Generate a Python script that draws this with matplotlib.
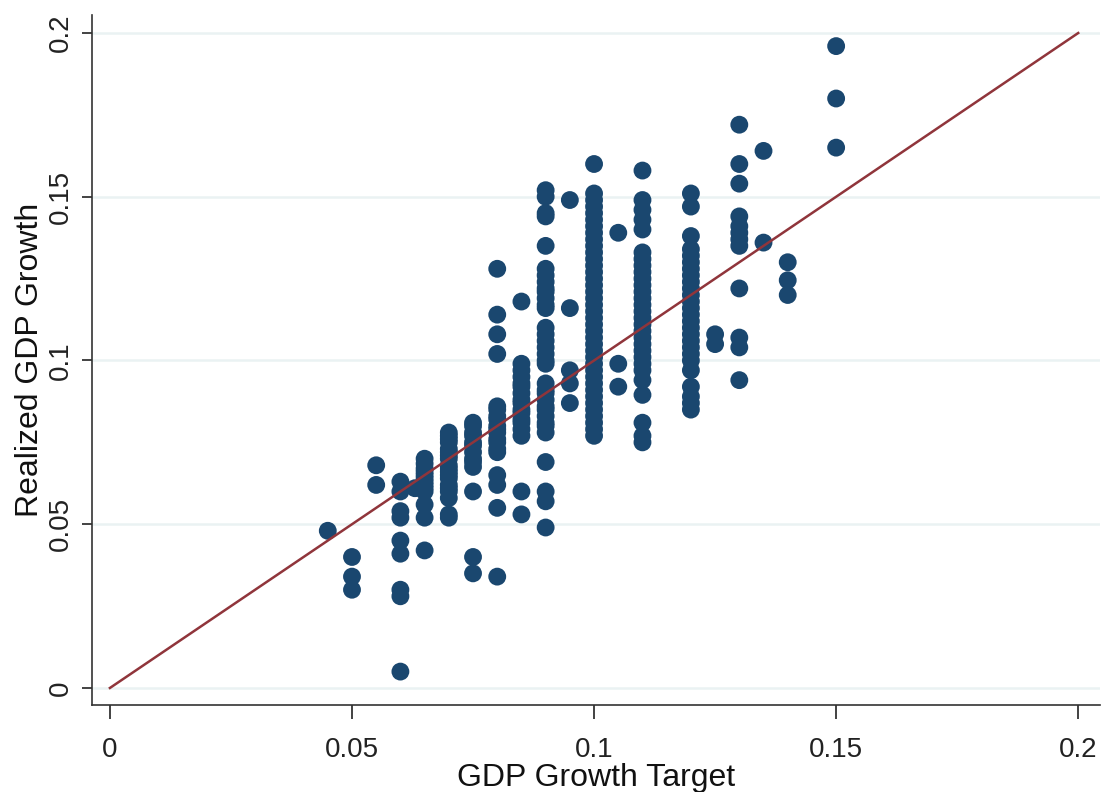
import matplotlib
matplotlib.use("Agg")
import matplotlib.pyplot as plt

plt.rcParams['font.family'] = ['Liberation Sans', 'DejaVu Sans']

# growth target of each group and the realized growth observed for it
targets = [0.045, 0.05, 0.055, 0.06, 0.063, 0.065, 0.07, 0.075, 0.08, 0.085,
           0.09, 0.095, 0.1, 0.105, 0.11, 0.12, 0.125, 0.13, 0.135, 0.14, 0.15]

realized = [
    [0.048],
    [0.040, 0.034, 0.030],
    [0.068, 0.062],
    [0.063, 0.060, 0.054, 0.052, 0.045, 0.041, 0.030, 0.028, 0.005],
    [0.061],
    [0.070, 0.0685, 0.067, 0.066, 0.065, 0.064, 0.063, 0.062, 0.061, 0.060,
     0.056, 0.052, 0.042],
    [0.078, 0.077, 0.076, 0.075, 0.073, 0.072, 0.071, 0.070, 0.068, 0.067,
     0.066, 0.065, 0.064, 0.062, 0.061, 0.060, 0.058, 0.053, 0.052],
    [0.081, 0.080, 0.078, 0.077, 0.075, 0.074, 0.072, 0.070, 0.069, 0.0675,
     0.060, 0.040, 0.035],
    [0.128, 0.114, 0.108, 0.102, 0.086, 0.085, 0.083, 0.082, 0.080, 0.079,
     0.078, 0.076, 0.075, 0.073, 0.072, 0.065, 0.062, 0.055, 0.034],
    [0.118, 0.099, 0.097, 0.095, 0.093, 0.092, 0.090, 0.088, 0.087, 0.085,
     0.084, 0.082, 0.081, 0.079, 0.077, 0.060, 0.053],
    [0.152, 0.150, 0.145, 0.144, 0.135, 0.128, 0.126, 0.124, 0.122, 0.121,
     0.119, 0.117, 0.116, 0.110, 0.108, 0.106, 0.104, 0.102, 0.100, 0.099,
     0.093, 0.091, 0.090, 0.088, 0.086, 0.085, 0.083, 0.081, 0.080, 0.078,
     0.069, 0.060, 0.057, 0.049],
    [0.149, 0.116, 0.097, 0.093, 0.087],
    [0.160, 0.151, 0.149, 0.147, 0.145, 0.143, 0.141, 0.139, 0.137, 0.135,
     0.133, 0.131, 0.129, 0.127, 0.125, 0.123, 0.121, 0.119, 0.117, 0.115,
     0.113, 0.111, 0.109, 0.107, 0.105, 0.103, 0.101, 0.099, 0.097, 0.095,
     0.093, 0.091, 0.089, 0.087, 0.085, 0.083, 0.081, 0.079, 0.077],
    [0.139, 0.099, 0.092],
    [0.158, 0.149, 0.146, 0.143, 0.140, 0.133, 0.131, 0.129, 0.127, 0.125,
     0.123, 0.121, 0.119, 0.117, 0.115, 0.113, 0.111, 0.109, 0.107, 0.105,
     0.103, 0.101, 0.099, 0.097, 0.094, 0.0895, 0.081, 0.077, 0.075],
    [0.151, 0.147, 0.138, 0.134, 0.132, 0.130, 0.128, 0.126, 0.124, 0.122,
     0.120, 0.118, 0.116, 0.114, 0.112, 0.110, 0.108, 0.106, 0.104, 0.102,
     0.100, 0.097, 0.092, 0.089, 0.087, 0.085],
    [0.108, 0.105],
    [0.172, 0.160, 0.154, 0.144, 0.141, 0.139, 0.137, 0.135, 0.122, 0.107,
     0.104, 0.094],
    [0.164, 0.136],
    [0.130, 0.1245, 0.120],
    [0.196, 0.180, 0.165],
]

ticks = [0, 0.05, 0.1, 0.15, 0.2]
tick_labels = ["0", "0.05", "0.1", "0.15", "0.2"]

xs, ys = [], []
for t, vals in zip(targets, realized):
    xs += [t] * len(vals)
    ys += vals

fig = plt.figure(figsize=(11.06, 7.92), dpi=100)
ax = fig.add_axes([92 / 1106, 87 / 792, 1008 / 1106, 690 / 792])

ax.set_xlim(-0.0037, 0.2045)
ax.set_ylim(-0.0052, 0.2055)

for v in ticks:
    ax.axhline(v, color="#eaf2f3", lw=1.8, zorder=0)

ax.scatter(xs, ys, s=165, color="#1a476f", edgecolors="none", zorder=2)
ax.plot([0, 0.2], [0, 0.2], color="#90353b", lw=1.8, zorder=3)

ax.set_xticks(ticks)
ax.set_xticklabels(tick_labels)
ax.set_yticks(ticks)
ax.set_yticklabels(tick_labels, rotation=90, va="center")
ax.tick_params(axis="x", length=10, width=1.2, labelsize=20, pad=13, colors="#222222")
ax.tick_params(axis="y", length=7, width=1.2, labelsize=20, pad=6, colors="#222222")

ax.spines["top"].set_visible(False)
ax.spines["right"].set_visible(False)
ax.spines["left"].set_color("#333333")
ax.spines["bottom"].set_color("#333333")
ax.spines["left"].set_linewidth(1.2)
ax.spines["bottom"].set_linewidth(1.2)

ax.set_xlabel("GDP Growth Target", fontsize=23, labelpad=0, color="#111111")
ax.set_ylabel("Realized GDP Growth", fontsize=23, labelpad=2, color="#111111")

fig.savefig("out.png", dpi=100)
